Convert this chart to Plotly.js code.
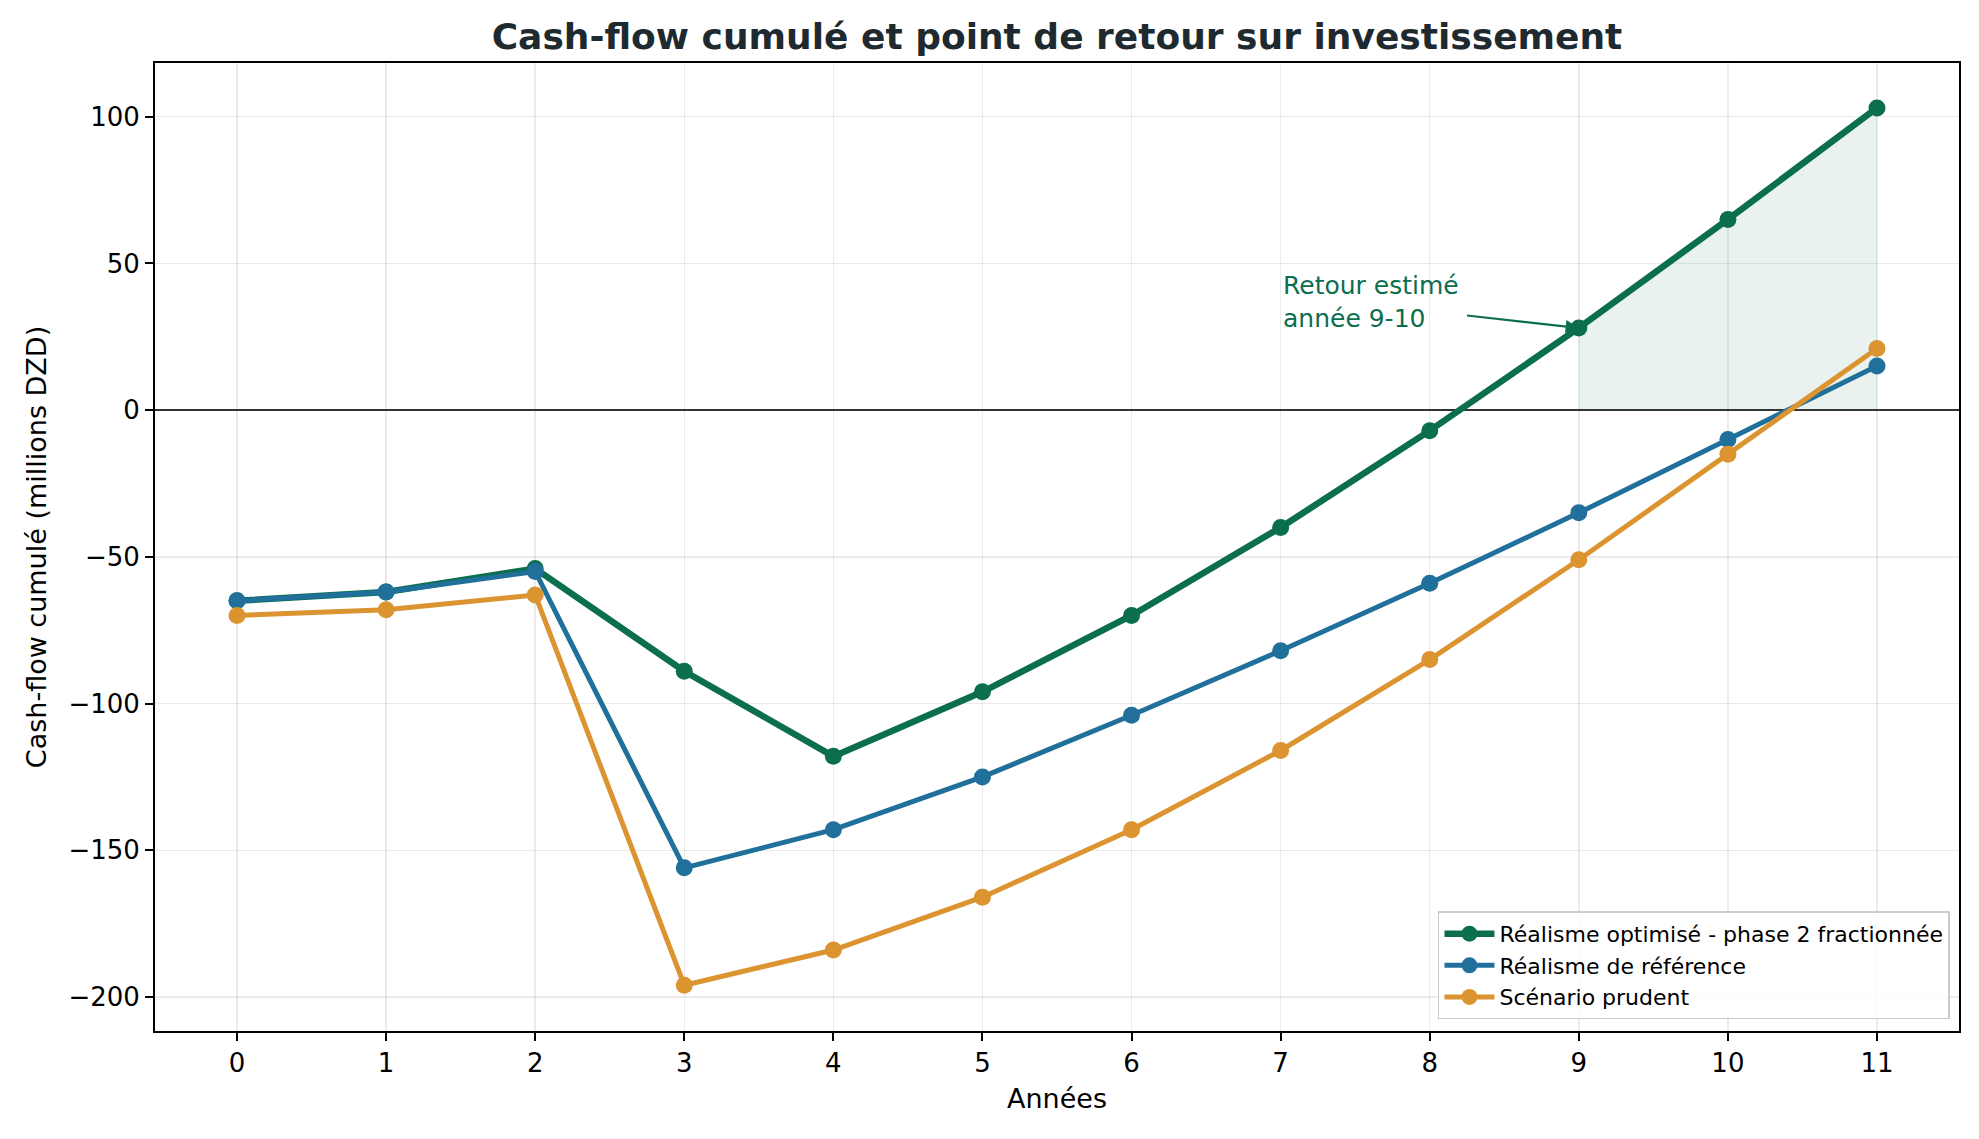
<!DOCTYPE html>
<html>
<head>
<meta charset="utf-8">
<script src="https://cdn.plot.ly/plotly-3.0.1.min.js"></script>
<style>
  html, body { margin: 0; padding: 0; background: #fff; }
  #chart { width: 1979px; height: 1139px; }
</style>
</head>
<body>
<div id="chart"></div>
<script>
const years = [0, 1, 2, 3, 4, 5, 6, 7, 8, 9, 10, 11];
const optimise = [-65, -62, -54, -89, -118, -96, -70, -40, -7, 28, 65, 103];
const reference = [-65, -62, -55, -156, -143, -125, -104, -82, -59, -35, -10, 15];
const prudent = [-70, -68, -63, -196, -184, -166, -143, -116, -85, -51, -15, 21];

const seriesNames = [
  "Réalisme optimisé - phase 2 fractionnée",
  "Réalisme de référence",
  "Scénario prudent",
];
const colors = ["#0b6e4f", "#21709c", "#dc9430"];

// zone after break-even (years 9 to 11)
const fillYears = years.slice(9);
const fillValues = optimise.slice(9);

const font = "DejaVu Sans, Liberation Sans, sans-serif";

const data = [
  {
    x: fillYears,
    y: fillValues,
    mode: "lines",
    fill: "tozeroy",
    fillcolor: "rgba(11,110,79,0.09)",
    line: { width: 0, color: "rgba(0,0,0,0)" },
    showlegend: false,
    hoverinfo: "skip",
  },
  {
    name: seriesNames[0],
    x: years,
    y: optimise,
    mode: "lines+markers",
    line: { color: colors[0], width: 6.5 },
    marker: { color: colors[0], size: 17 },
  },
  {
    name: seriesNames[1],
    x: years,
    y: reference,
    mode: "lines+markers",
    line: { color: colors[1], width: 5 },
    marker: { color: colors[1], size: 17 },
  },
  {
    name: seriesNames[2],
    x: years,
    y: prudent,
    mode: "lines+markers",
    line: { color: colors[2], width: 5 },
    marker: { color: colors[2], size: 17 },
  },
];

const axisCommon = {
  showline: true,
  mirror: true,
  linecolor: "#000",
  linewidth: 2,
  ticks: "outside",
  ticklen: 8,
  tickwidth: 2,
  tickcolor: "#000",
  showgrid: true,
  gridcolor: "rgba(0,0,0,0.08)",
  gridwidth: 1.5,
  tickfont: { family: font, size: 26, color: "#000" },
};

const layout = {
  width: 1979,
  height: 1139,
  paper_bgcolor: "#fff",
  plot_bgcolor: "#fff",
  margin: { l: 155, r: 20, t: 63, b: 108 },
  font: { family: font },
  title: {
    text: "<b>Cash-flow cumulé et point de retour sur investissement</b>",
    font: { family: font, size: 36, color: "#1e2a30" },
    x: 0.5,
    xref: "paper",
    y: 1 - 36 / 1139,
    yref: "container",
    yanchor: "middle",
  },
  xaxis: Object.assign({}, axisCommon, {
    range: [-0.55, 11.55],
    tickmode: "array",
    tickvals: years,
    zeroline: false,
    title: { text: "Années", font: { family: font, size: 27, color: "#000" }, standoff: 12 },
  }),
  yaxis: Object.assign({}, axisCommon, {
    range: [-211.6, 118.3],
    tickvals: [-200, -150, -100, -50, 0, 50, 100],
    zeroline: true,
    zerolinecolor: "#333",
    zerolinewidth: 2,
    title: { text: "Cash-flow cumulé (millions DZD)", font: { family: font, size: 27, color: "#000" }, standoff: 14 },
  }),
  legend: {
    x: 0.995,
    y: 0.012,
    xanchor: "right",
    yanchor: "bottom",
    bgcolor: "rgba(255,255,255,0.85)",
    bordercolor: "#cccccc",
    borderwidth: 1.5,
    itemwidth: 50,
    font: { family: font, size: 22, color: "#000" },
    tracegroupgap: 0,
  },
  annotations: [
    {
      x: 7,
      y: 37,
      xref: "x",
      yref: "y",
      text: "Retour estimé<br>année 9-10",
      showarrow: false,
      xanchor: "left",
      yanchor: "middle",
      align: "left",
      font: { family: font, size: 25, color: colors[0] },
    },
    {
      x: 9,
      y: 28,
      xref: "x",
      yref: "y",
      ax: 8.24,
      ay: 32.3,
      axref: "x",
      ayref: "y",
      text: "",
      showarrow: true,
      arrowhead: 2,
      arrowsize: 1.2,
      arrowwidth: 2.2,
      arrowcolor: colors[0],
      standoff: 0,
    },
  ],
};

Plotly.newPlot("chart", data, layout, { displayModeBar: false, staticPlot: true });
</script>
</body>
</html>
